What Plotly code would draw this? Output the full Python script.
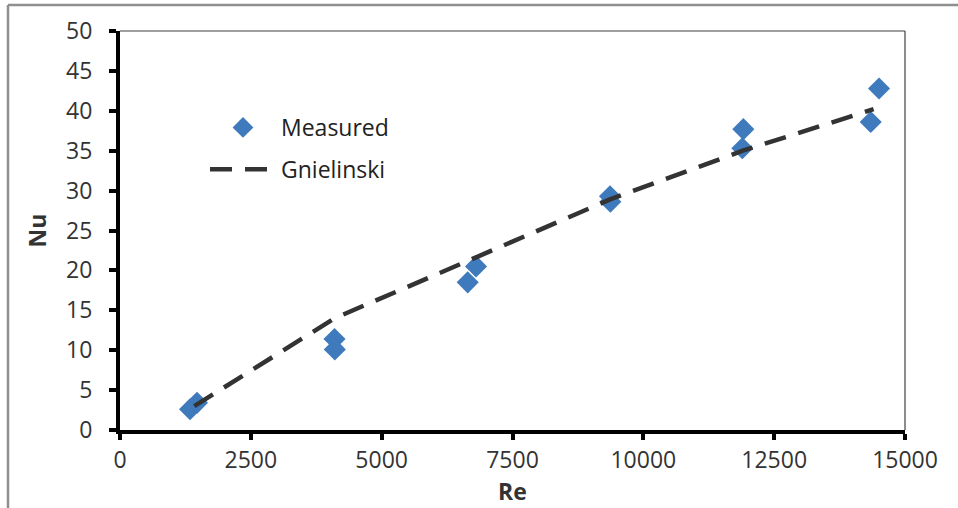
import plotly.graph_objects as go

# Measured data
re_measured = [1338, 1471, 4099, 4105, 6644, 6803, 9363, 9370, 11911, 11892, 14504, 14345]
nu_measured = [2.6, 3.4, 11.4, 10.1, 18.5, 20.5, 29.3, 28.6, 37.7, 35.3, 42.8, 38.6]

# Gnielinski correlation
re_gn = [1420, 4100, 6720, 9365, 11900, 14400]
nu_gn = [3.0, 14.0, 21.4, 28.9, 35.0, 40.2]

x_ticks = [0, 2500, 5000, 7500, 10000, 12500, 15000]
y_ticks = [0, 5, 10, 15, 20, 25, 30, 35, 40, 45, 50]

FONT = "Open Sans"

fig = go.Figure()
fig.add_trace(go.Scatter(
    x=re_measured, y=nu_measured, mode="markers", name="Measured",
    legendgroup="a",
    marker=dict(symbol="diamond", size=17, color="#3f7abd"),
))
fig.add_trace(go.Scatter(
    x=re_gn, y=nu_gn, mode="lines", name="Gnielinski",
    legendgroup="b",
    line=dict(color="#333333", width=4.5, dash="22px,13px"),
))

W, H = 958, 508
L, R, T, B = 120, 53, 31, 78
pw, ph = W - L - R, H - T - B

def px_x(p):
    return (p - L) / pw

def px_y(p):
    return (H - B - p) / ph

fig.update_layout(
    width=W, height=H,
    margin=dict(l=L, r=R, t=T, b=B, pad=0),
    paper_bgcolor="white", plot_bgcolor="white",
    font=dict(family=FONT, size=23, color="#333333"),
    showlegend=True,
    legend=dict(
        x=px_x(205), y=px_y(106), xanchor="left", yanchor="top",
        bgcolor="rgba(0,0,0,0)", font=dict(size=23, color="#222222"),
        itemwidth=66, tracegroupgap=9, traceorder="grouped",
    ),
    xaxis=dict(
        range=[0, 15000], tickvals=x_ticks, ticktext=[str(v) for v in x_ticks],
        showgrid=False, zeroline=False, showline=True, linecolor="black", linewidth=4,
        ticks="outside", ticklen=6, tickwidth=4, tickcolor="black",
        tickfont=dict(size=23, color="#333333"),
        title=dict(text="<b>Re</b>", font=dict(size=23, color="#333333"), standoff=4),
    ),
    yaxis=dict(
        range=[0, 50], tickvals=y_ticks, ticktext=[str(v) for v in y_ticks],
        showgrid=False, zeroline=False, showline=True, linecolor="black", linewidth=4,
        ticks="outside", ticklen=7, tickwidth=4, tickcolor="black",
        tickfont=dict(size=23, color="#333333"),
        ticklabelstandoff=12,
        title=dict(text="<b>Nu</b>", font=dict(size=23, color="#333333"), standoff=14),
    ),
    shapes=[
        # thin top and right plot-area border
        dict(type="line", xref="paper", yref="paper", x0=0, x1=1, y0=1, y1=1,
             line=dict(color="#404040", width=1.2)),
        dict(type="line", xref="paper", yref="paper", x0=1, x1=1, y0=0, y1=1,
             line=dict(color="#404040", width=1.2)),
        # outer chart frame (gray)
        dict(type="line", xref="paper", yref="paper", x0=px_x(8), x1=px_x(970),
             y0=px_y(5), y1=px_y(5), line=dict(color="#8f8f8f", width=2.5)),
        dict(type="line", xref="paper", yref="paper", x0=px_x(8), x1=px_x(8),
             y0=px_y(5), y1=px_y(520), line=dict(color="#8f8f8f", width=2.5)),
    ],
)

fig.write_html(
    "out.html",
    config={"displayModeBar": False},
    post_script="document.body.style.margin='0';document.body.style.overflow='hidden';",
)
